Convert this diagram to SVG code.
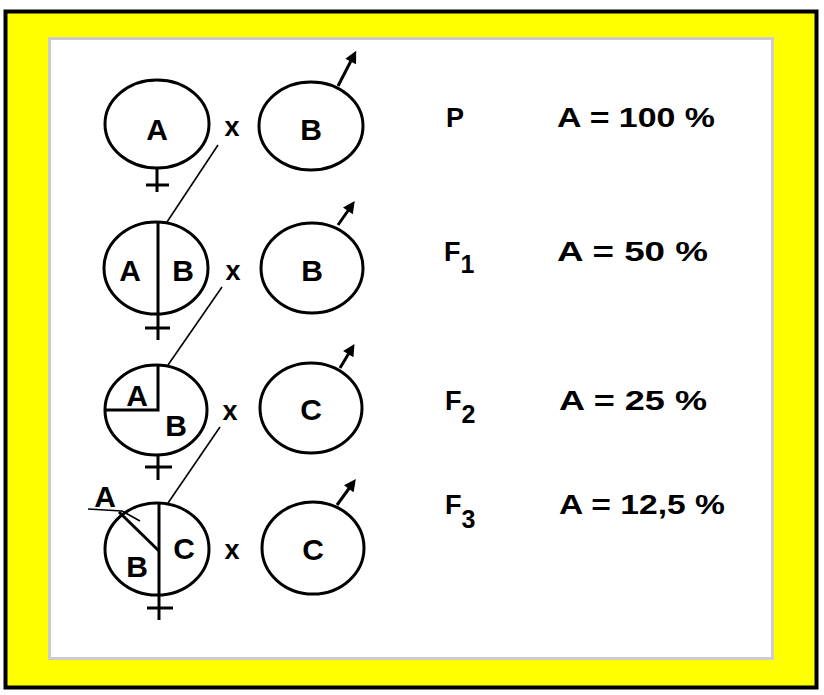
<svg xmlns="http://www.w3.org/2000/svg" width="824" height="695" viewBox="0 0 824 695">
<defs>
<marker id="ah" viewBox="0 0 10 10" refX="6" refY="5" markerWidth="4.5" markerHeight="4" orient="auto" markerUnits="strokeWidth">
<path d="M0,0 L10,5 L0,10 z" fill="#000"/>
</marker>
<style>
.c{fill:none;stroke:#000;stroke-width:3}
.l{stroke:#000;stroke-width:3;fill:none}
.t{stroke:#000;stroke-width:1.6;fill:none}
.m{stroke:#000;stroke-width:3;fill:none;marker-end:url(#ah)}
.lab{font-family:"Liberation Sans",Arial,sans-serif;font-weight:bold;font-size:30px;text-anchor:middle;fill:#000}
.x{font-family:"Liberation Sans",Arial,sans-serif;font-weight:bold;font-size:27px;text-anchor:middle;fill:#000}
.r{font-family:"Liberation Sans",Arial,sans-serif;font-weight:bold;font-size:27px;fill:#000}
.s{font-family:"Liberation Sans",Arial,sans-serif;font-weight:bold;font-size:25px;fill:#000}
</style>
</defs>
<rect x="5.5" y="11.5" width="811" height="676" fill="#ffff00" stroke="#000" stroke-width="4"/>
<rect x="49.5" y="38.5" width="723" height="620" fill="#fff" stroke="#cccccc" stroke-width="3"/>

<g id="connectors">
<line class="t" x1="218" y1="145" x2="167" y2="222"/>
<line class="t" x1="222" y1="287" x2="168" y2="365"/>
<line class="t" x1="220" y1="427" x2="168" y2="503"/>
</g>

<g id="female-P">
<ellipse class="c" cx="157" cy="124" rx="52" ry="44"/>
<line class="l" x1="157" y1="168" x2="157" y2="192"/>
<line class="l" x1="146" y1="185" x2="169" y2="185"/>
<text class="lab" x="157" y="140">A</text>
</g>
<text id="x-P" class="x" x="232" y="136">x</text>
<g id="male-P">
<ellipse class="c" cx="311" cy="126" rx="52" ry="44"/>
<line class="m" x1="338" y1="86" x2="354" y2="55"/>
<text class="lab" x="311" y="140">B</text>
</g>

<g id="female-F1">
<ellipse class="c" cx="156" cy="268" rx="52" ry="46"/>
<line class="l" x1="158" y1="222" x2="158" y2="340"/>
<line class="l" x1="145" y1="328" x2="170" y2="328"/>
<text class="lab" x="130" y="281">A</text>
<text class="lab" x="183" y="281">B</text>
</g>
<text id="x-F1" class="x" x="233" y="280">x</text>
<g id="male-F1">
<ellipse class="c" cx="312" cy="268" rx="51" ry="45"/>
<line class="m" x1="338" y1="225" x2="352" y2="205"/>
<text class="lab" x="312" y="281">B</text>
</g>

<g id="female-F2">
<ellipse class="c" cx="156" cy="410" rx="51" ry="45"/>
<polyline class="l" points="158,365 158,410 105,410"/>
<line class="l" x1="158" y1="455" x2="158" y2="480"/>
<line class="l" x1="145" y1="467" x2="172" y2="467"/>
<text class="lab" x="137" y="406">A</text>
<text class="lab" x="176" y="436">B</text>
</g>
<text id="x-F2" class="x" x="230" y="420">x</text>
<g id="male-F2">
<ellipse class="c" cx="311" cy="408" rx="51" ry="45"/>
<line class="m" x1="340" y1="368" x2="352" y2="348"/>
<text class="lab" x="311" y="420">C</text>
</g>

<g id="female-F3">
<ellipse class="c" cx="157" cy="549" rx="52" ry="46"/>
<line class="l" x1="159" y1="503" x2="159" y2="620"/>
<line class="l" x1="147" y1="608" x2="173" y2="608"/>
<line class="l" x1="119" y1="512" x2="159" y2="551"/>
<line class="t" x1="88" y1="509" x2="122" y2="511"/>
<line class="t" x1="122" y1="511" x2="140" y2="521"/>
<text class="lab" x="105" y="507">A</text>
<text class="lab" x="137" y="577">B</text>
<text class="lab" x="184" y="559">C</text>
</g>
<text id="x-F3" class="x" x="232" y="559">x</text>
<g id="male-F3">
<ellipse class="c" cx="313" cy="548" rx="51" ry="46"/>
<line class="m" x1="337" y1="505" x2="353" y2="483"/>
<text class="lab" x="313" y="560">C</text>
</g>

<g id="labels">
<text class="r" x="446" y="127">P</text>
<text class="r" x="557" y="127" textLength="158" lengthAdjust="spacingAndGlyphs">A = 100 %</text>
<text class="r" x="444" y="261">F<tspan class="s" dy="12">1</tspan></text>
<text class="r" x="557" y="261" textLength="151" lengthAdjust="spacingAndGlyphs">A = 50 %</text>
<text class="r" x="445" y="410">F<tspan class="s" dy="13">2</tspan></text>
<text class="r" x="559" y="410" textLength="148" lengthAdjust="spacingAndGlyphs">A = 25 %</text>
<text class="r" x="445" y="514">F<tspan class="s" dy="14">3</tspan></text>
<text class="r" x="559" y="514" textLength="166" lengthAdjust="spacingAndGlyphs">A = 12,5 %</text>
</g>
</svg>
